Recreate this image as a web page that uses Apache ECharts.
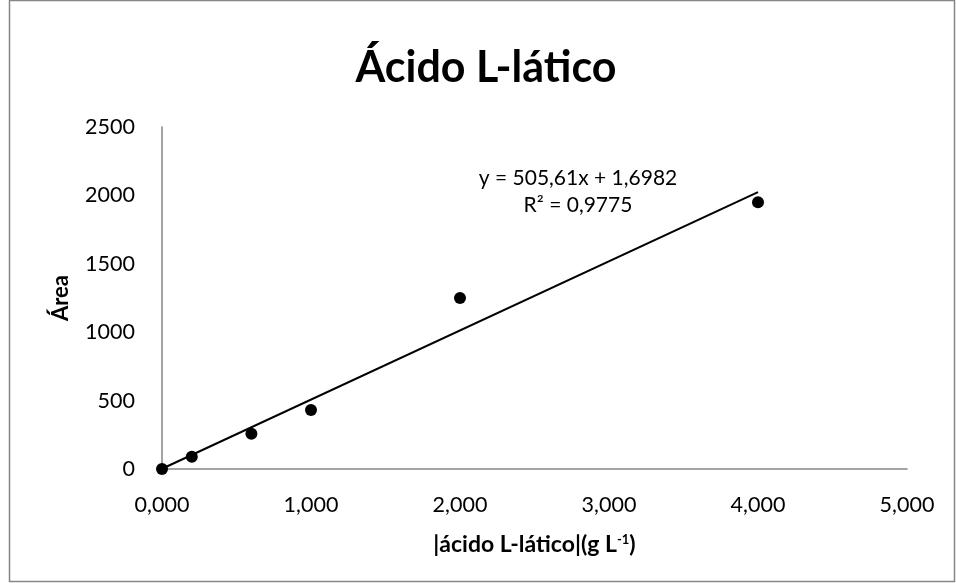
<!DOCTYPE html>
<html>
<head>
<meta charset="utf-8">
<script src="https://cdn.jsdelivr.net/npm/echarts@6/dist/echarts.min.js"></script>
<style>
html,body{margin:0;padding:0;background:#fff;}
#c{width:956px;height:583px;}
</style>
</head>
<body>
<div id="c"></div>
<script>
const concentracao = [0.0, 0.2, 0.6, 1.0, 2.0, 4.0];
const area = [0, 90, 258, 432, 1250, 1950];
const trendX = [0, 4];
const slope = 505.61;
const intercept = 1.6982;
const chartTitle = 'Ácido L-lático';
const equationText = ['y = 505,61x + 1,6982', 'R² = 0,9775'];

const pts = concentracao.map((x, i) => [x, area[i]]);
const trend = trendX.map(x => [x, slope * x + intercept]);
const F = 'Lato, "Open Sans", sans-serif';

const chart = echarts.init(document.getElementById('c'));
chart.setOption({
  animation: false,
  grid: {left: 162, right: 49, top: 127, bottom: 114},
  xAxis: {
    type: 'value', min: 0, max: 5, interval: 1,
    axisLine: {show: true, lineStyle: {color: '#868686', width: 1.5}},
    axisTick: {show: false},
    splitLine: {show: false},
    axisLabel: {
      margin: 25, color: '#000', fontFamily: F, fontSize: 21.5,
      formatter: v => v.toFixed(3).replace('.', ',')
    },
    name: '{b||ácido L-lático|(g L}{s|-1}{b|)}',
    nameLocation: 'middle',
    nameMoveOverlap: false,
    nameGap: 64,
    nameTextStyle: {
      rich: {
        b: {fontFamily: F, fontSize: 23, fontWeight: 'bold', color: '#000'},
        s: {fontFamily: F, fontSize: 13, fontWeight: 'bold', color: '#000', verticalAlign: 'top', lineHeight: 14, padding: [0,0,12,0]}
      }
    }
  },
  yAxis: {
    type: 'value', min: 0, max: 2500, interval: 500,
    axisLine: {show: true, lineStyle: {color: '#868686', width: 1.5}},
    axisTick: {show: false},
    splitLine: {show: false},
    axisLabel: {margin: 27, color: '#000', fontFamily: F, fontSize: 21.5, formatter: v => String(v)},
    name: 'Área',
    nameLocation: 'middle',
    nameMoveOverlap: false,
    nameGap: 90,
    nameRotate: 90,
    nameTextStyle: {fontFamily: F, fontSize: 22, fontWeight: 'bold', color: '#000'}
  },
  series: [
    {
      type: 'line', data: trend, symbol: 'none', silent: true,
      lineStyle: {color: '#000', width: 2}, z: 2
    },
    {
      type: 'scatter', data: pts, symbol: 'circle', symbolSize: 12,
      itemStyle: {color: '#000', opacity: 1}, z: 3
    }
  ],
  graphic: [
    {
      type: 'rect', silent: true, z: -1,
      shape: {x: 9.5, y: 0.5, width: 945, height: 581},
      style: {fill: 'none', stroke: '#868686', lineWidth: 1.5}
    },
    {
      type: 'text', x: 486, y: 68,
      style: {
        text: chartTitle, fill: '#000',
        font: 'bold 43px ' + F, align: 'center', verticalAlign: 'middle'
      }
    },
    {
      type: 'text', x: 578, y: 178,
      style: {
        text: equationText[0], fill: '#000',
        font: '21px ' + F, align: 'center', verticalAlign: 'middle'
      }
    },
    {
      type: 'text', x: 578, y: 205,
      style: {
        text: equationText[1], fill: '#000',
        font: '21px ' + F, align: 'center', verticalAlign: 'middle'
      }
    }
  ]
});
</script>
</body>
</html>
